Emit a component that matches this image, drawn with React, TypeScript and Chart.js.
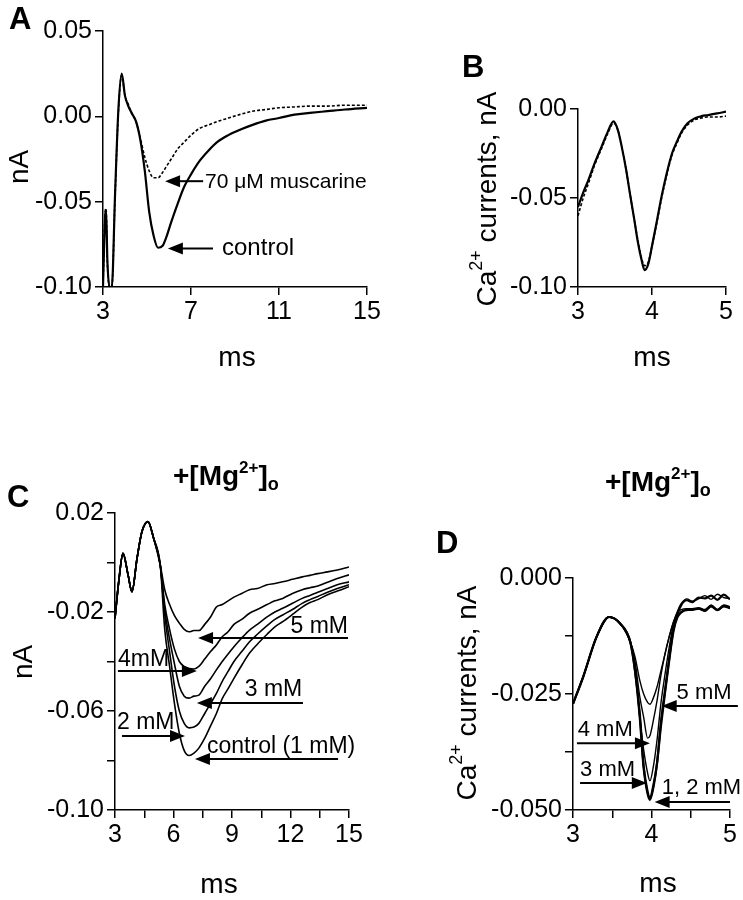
import React, { useEffect, useRef } from "react";
import { Chart, registerables } from "chart.js";

Chart.register(...registerables);

const W = 743;
const H = 900;
const FONT = "'Liberation Sans', Arial, Helvetica, sans-serif";

// ---------------- Panel A ----------------
const aTime = [3.0, 3.05, 3.1, 3.14, 3.2, 3.3, 3.4, 3.55, 3.7, 3.85, 4.0, 4.15, 4.3, 4.5, 4.7, 4.9, 5.1, 5.3, 5.5, 5.7, 5.9, 6.1, 6.4, 6.7, 7.0, 7.4, 7.8, 8.2, 8.7, 9.2, 9.8, 10.4, 11.0, 11.7, 12.4, 13.2, 14.0, 15.0];
const aControl = [-0.1, -0.076, -0.058, -0.055, -0.085, -0.1, -0.1, -0.045, 0.004, 0.025, 0.012, 0.006, 0.002, -0.003, -0.014, -0.032, -0.056, -0.07, -0.077, -0.076, -0.07, -0.062, -0.051, -0.041, -0.034, -0.026, -0.02, -0.015, -0.011, -0.008, -0.005, -0.0025, -0.001, 0.001, 0.002, 0.003, 0.004, 0.005];
const aMuscarine = [-0.1, -0.074, -0.056, -0.054, -0.086, -0.1, -0.1, -0.046, 0.003, 0.024, 0.012, 0.007, 0.002, -0.003, -0.013, -0.024, -0.032, -0.036, -0.036, -0.033, -0.029, -0.025, -0.019, -0.015, -0.011, -0.007, -0.005, -0.003, -0.001, 0.001, 0.003, 0.004, 0.005, 0.0055, 0.006, 0.006, 0.0065, 0.0065];
const aXTicks = [3, 7, 11, 15];
const aXLabels = ["3", "7", "11", "15"];
const aYTicks = [-0.1, -0.05, 0, 0.05];
const aYLabels = ["-0.10", "-0.05", "0.00", "0.05"];

// ---------------- Panel B ----------------
const bTime = [3.0, 3.07, 3.14, 3.22, 3.32, 3.4, 3.48, 3.54, 3.59, 3.65, 3.7, 3.76, 3.81, 3.86, 3.9, 3.95, 4.0, 4.07, 4.13, 4.2, 4.27, 4.34, 4.4, 4.48, 4.58, 4.67, 4.76, 4.88, 5.0];
const bControl = [-0.055, -0.047, -0.04, -0.031, -0.021, -0.013, -0.007, -0.012, -0.021, -0.034, -0.047, -0.062, -0.075, -0.085, -0.0905, -0.087, -0.077, -0.062, -0.049, -0.036, -0.025, -0.018, -0.0127, -0.008, -0.0052, -0.004, -0.0034, -0.0025, -0.0015];
const bMuscarine = [-0.06, -0.05, -0.042, -0.032, -0.022, -0.014, -0.008, -0.012, -0.021, -0.034, -0.047, -0.062, -0.074, -0.084, -0.088, -0.086, -0.077, -0.063, -0.05, -0.037, -0.026, -0.019, -0.0135, -0.009, -0.006, -0.005, -0.0045, -0.0045, -0.004];
const bXTicks = [3, 4, 5];
const bXLabels = ["3", "4", "5"];
const bYTicks = [-0.1, -0.05, 0];
const bYLabels = ["-0.10", "-0.05", "0.00"];

// ---------------- Panel C ----------------
const cTime = [3.0, 3.19, 3.41, 3.67, 3.87, 4.13, 4.38, 4.69, 4.98, 5.32, 5.55, 5.8, 6.05, 6.3, 6.55, 6.8, 7.05, 7.3, 7.6, 7.9, 8.2, 8.5, 8.8, 9.1, 9.5, 9.9, 10.3, 10.8, 11.2, 11.6, 12.1, 12.6, 13.0, 13.4, 13.9, 14.4, 15.0];
const cMg5 = [-0.0226, -0.0078, 0.0037, -0.005, -0.0118, 0.0017, 0.0124, 0.0165, 0.0098, -0.001, -0.011, -0.017, -0.0215, -0.0245, -0.027, -0.028, -0.0275, -0.0275, -0.025, -0.022, -0.018, -0.017, -0.0155, -0.014, -0.0125, -0.011, -0.0105, -0.009, -0.0085, -0.0078, -0.0068, -0.0058, -0.0052, -0.0045, -0.0038, -0.003, -0.0018];
const cMg4 = [-0.0226, -0.0078, 0.0037, -0.005, -0.0118, 0.0017, 0.0124, 0.0165, 0.0098, -0.001, -0.017, -0.027, -0.035, -0.04, -0.042, -0.0428, -0.043, -0.042, -0.039, -0.036, -0.0333, -0.03, -0.028, -0.025, -0.023, -0.0205, -0.019, -0.017, -0.0155, -0.0145, -0.0125, -0.011, -0.0102, -0.0095, -0.008, -0.0065, -0.005];
const cMg3 = [-0.0226, -0.0078, 0.0037, -0.005, -0.0118, 0.0017, 0.0124, 0.0165, 0.0098, -0.001, -0.019, -0.031, -0.041, -0.05, -0.054, -0.0548, -0.054, -0.0536, -0.05, -0.047, -0.0434, -0.04, -0.037, -0.034, -0.0305, -0.0273, -0.025, -0.022, -0.02, -0.0185, -0.0165, -0.0145, -0.0133, -0.012, -0.0105, -0.009, -0.0078];
const cMg2 = [-0.0226, -0.0078, 0.0037, -0.005, -0.0118, 0.0017, 0.0124, 0.0165, 0.0098, -0.001, -0.021, -0.036, -0.05, -0.06, -0.065, -0.0668, -0.0665, -0.065, -0.061, -0.057, -0.0529, -0.048, -0.044, -0.04, -0.036, -0.032, -0.029, -0.0255, -0.023, -0.0212, -0.019, -0.0165, -0.015, -0.0137, -0.012, -0.0105, -0.009];
const cMg1 = [-0.0226, -0.0078, 0.0037, -0.005, -0.0118, 0.0017, 0.0124, 0.0165, 0.0098, -0.001, -0.027, -0.042, -0.057, -0.069, -0.076, -0.078, -0.077, -0.075, -0.071, -0.066, -0.061, -0.055, -0.051, -0.0468, -0.0415, -0.0366, -0.033, -0.029, -0.026, -0.0239, -0.021, -0.018, -0.0162, -0.015, -0.013, -0.0115, -0.0098];
const cXTicks = [3, 4.5, 6, 7.5, 9, 10.5, 12, 13.5, 15];
const cXLabels = ["3", "", "6", "", "9", "", "12", "", "15"];
const cYTicks = [-0.1, -0.08, -0.06, -0.04, -0.02, 0, 0.02];
const cYLabels = ["-0.10", "", "-0.06", "", "-0.02", "", "0.02"];

// ---------------- Panel D ----------------
const dTime = [3.0, 3.13, 3.3, 3.46, 3.6, 3.73, 3.79, 3.85, 3.9, 3.95, 3.98, 4.02, 4.07, 4.12, 4.17, 4.22, 4.28, 4.33, 4.38, 4.45, 4.52, 4.6, 4.68, 4.76, 4.84, 4.92, 5.0];
const dMg5 = [-0.0271, -0.0213, -0.0127, -0.0084, -0.0098, -0.0138, -0.017, -0.022, -0.025, -0.0268, -0.0272, -0.026, -0.0235, -0.02, -0.0165, -0.013, -0.0095, -0.0072, -0.0055, -0.0045, -0.005, -0.0045, -0.0038, -0.0046, -0.0035, -0.0042, -0.0044];
const dMg4 = [-0.0271, -0.0213, -0.0127, -0.0084, -0.0098, -0.0138, -0.018, -0.0255, -0.03, -0.0345, -0.034, -0.031, -0.0265, -0.021, -0.0165, -0.013, -0.0095, -0.0075, -0.0068, -0.0066, -0.0066, -0.0064, -0.0068, -0.0058, -0.0068, -0.0058, -0.0062];
const dMg3 = [-0.0271, -0.0213, -0.0127, -0.0084, -0.0098, -0.0138, -0.019, -0.03, -0.037, -0.042, -0.0437, -0.041, -0.035, -0.027, -0.021, -0.0155, -0.01, -0.0082, -0.0072, -0.007, -0.0068, -0.0067, -0.0072, -0.0062, -0.007, -0.0062, -0.0066];
const dMg2 = [-0.0271, -0.0213, -0.0127, -0.0084, -0.0098, -0.0138, -0.02, -0.029, -0.0405, -0.046, -0.0475, -0.045, -0.04, -0.031, -0.0245, -0.018, -0.011, -0.0078, -0.0058, -0.0048, -0.0052, -0.0042, -0.0044, -0.0038, -0.0047, -0.0036, -0.0046];
const dMg1 = [-0.0271, -0.0213, -0.0127, -0.0084, -0.0098, -0.0138, -0.02, -0.03, -0.041, -0.0465, -0.0478, -0.0455, -0.04, -0.032, -0.025, -0.0185, -0.0115, -0.0085, -0.0074, -0.0068, -0.0069, -0.0066, -0.007, -0.006, -0.0069, -0.006, -0.0064];
const dXTicks = [3, 3.5, 4, 4.5, 5];
const dXLabels = ["3", "", "4", "", "5"];
const dYTicks = [-0.05, -0.0375, -0.025, -0.0125, 0];
const dYLabels = ["-0.050", "", "-0.025", "", "0.000"];

type Ann = { text: string; tx: number; ty: number; align: "left" | "right"; tail: number; tip: number; ay: number; size: number };
type Txt = { parts: { t: string; size: number; dy: number }[]; x: number; y: number; bold?: boolean; rotate?: boolean; center?: boolean };

type PanelCfg = {
  area: { left: number; right: number; top: number; bottom: number };
  xRange: [number, number];
  yRange: [number, number];
  xTicks: number[];
  xLabels: string[];
  yTicks: number[];
  yLabels: string[];
  series: { time: number[]; values: number[]; width: number; dash?: number[] }[];
  anns: Ann[];
  texts: Txt[];
};

const caTitle = [
  { t: "Ca", size: 28, dy: 0 },
  { t: "2+", size: 18, dy: -11 },
  { t: " currents, nA", size: 28, dy: 0 },
];
const mgTitle = [
  { t: "+[Mg", size: 28, dy: 0 },
  { t: "2+", size: 17, dy: -12 },
  { t: "]", size: 28, dy: 0 },
  { t: "o", size: 18, dy: 5 },
];

const panels: PanelCfg[] = [
  {
    area: { left: 103, right: 367, top: 31, bottom: 287 },
    xRange: [3, 15],
    yRange: [-0.1, 0.05],
    xTicks: aXTicks, xLabels: aXLabels, yTicks: aYTicks, yLabels: aYLabels,
    series: [
      { time: aTime, values: aMuscarine, width: 1.6, dash: [3, 2] },
      { time: aTime, values: aControl, width: 2.2 },
    ],
    anns: [
      { text: "70 \u03BCM muscarine", tx: 7.64, ty: -0.0387, align: "left", tail: 7.55, tip: 5.82, ay: -0.038, size: 21 },
      { text: "control", tx: 8.41, ty: -0.0774, align: "left", tail: 8.0, tip: 5.95, ay: -0.0774, size: 24 },
    ],
    texts: [
      { parts: [{ t: "A", size: 31, dy: 0 }], x: 9, y: 29, bold: true },
      { parts: [{ t: "nA", size: 28, dy: 0 }], x: 20, y: 167, rotate: true, center: true },
      { parts: [{ t: "ms", size: 28, dy: 0 }], x: 237, y: 358, center: true },
    ],
  },
  {
    area: { left: 578, right: 726, top: 109, bottom: 287 },
    xRange: [3, 5],
    yRange: [-0.1, 0],
    xTicks: bXTicks, xLabels: bXLabels, yTicks: bYTicks, yLabels: bYLabels,
    series: [
      { time: bTime, values: bMuscarine, width: 1.6, dash: [3, 2] },
      { time: bTime, values: bControl, width: 2.2 },
    ],
    anns: [],
    texts: [
      { parts: [{ t: "B", size: 31, dy: 0 }], x: 462, y: 77, bold: true },
      { parts: caTitle, x: 488, y: 199, rotate: true, center: true },
      { parts: [{ t: "ms", size: 28, dy: 0 }], x: 652, y: 358, center: true },
    ],
  },
  {
    area: { left: 115, right: 349, top: 513, bottom: 810 },
    xRange: [3, 15],
    yRange: [-0.1, 0.02],
    xTicks: cXTicks, xLabels: cXLabels, yTicks: cYTicks, yLabels: cYLabels,
    series: [
      { time: cTime, values: cMg5, width: 1.6 },
      { time: cTime, values: cMg4, width: 1.6 },
      { time: cTime, values: cMg3, width: 1.6 },
      { time: cTime, values: cMg2, width: 1.6 },
      { time: cTime, values: cMg1, width: 1.6 },
    ],
    anns: [
      { text: "5 mM", tx: 14.95, ty: -0.0261, align: "right", tail: 14.95, tip: 7.26, ay: -0.0305, size: 23 },
      { text: "4mM", tx: 3.15, ty: -0.0394, align: "left", tail: 3.15, tip: 7.2, ay: -0.0438, size: 23 },
      { text: "3 mM", tx: 12.6, ty: -0.0515, align: "right", tail: 12.64, tip: 7.2, ay: -0.0568, size: 23 },
      { text: "2 mM", tx: 3.1, ty: -0.0648, align: "left", tail: 3.36, tip: 6.59, ay: -0.0701, size: 23 },
      { text: "control (1 mM)", tx: 7.72, ty: -0.0745, align: "left", tail: 14.44, tip: 7.1, ay: -0.0794, size: 23 },
    ],
    texts: [
      { parts: [{ t: "C", size: 31, dy: 0 }], x: 7, y: 507, bold: true },
      { parts: mgTitle, x: 173, y: 485, bold: true },
      { parts: [{ t: "nA", size: 28, dy: 0 }], x: 24, y: 662, rotate: true, center: true },
      { parts: [{ t: "ms", size: 28, dy: 0 }], x: 219, y: 885, center: true },
    ],
  },
  {
    area: { left: 573, right: 730, top: 578, bottom: 810 },
    xRange: [3, 5],
    yRange: [-0.05, 0],
    xTicks: dXTicks, xLabels: dXLabels, yTicks: dYTicks, yLabels: dYLabels,
    series: [
      { time: dTime, values: dMg5, width: 1.4 },
      { time: dTime, values: dMg4, width: 1.4 },
      { time: dTime, values: dMg3, width: 1.4 },
      { time: dTime, values: dMg2, width: 2.2 },
      { time: dTime, values: dMg1, width: 2.2 },
    ],
    anns: [
      { text: "5 mM", tx: 4.32, ty: -0.0248, align: "left", tail: 5.1, tip: 4.13, ay: -0.0276, size: 22 },
      { text: "4 mM", tx: 3.06, ty: -0.0328, align: "left", tail: 3.05, tip: 3.98, ay: -0.0356, size: 22 },
      { text: "3 mM", tx: 3.09, ty: -0.0414, align: "left", tail: 3.09, tip: 3.94, ay: -0.0442, size: 22 },
      { text: "1, 2 mM", tx: 4.13, ty: -0.0453, align: "left", tail: 5.0, tip: 4.04, ay: -0.0483, size: 22 },
    ],
    texts: [
      { parts: [{ t: "D", size: 31, dy: 0 }], x: 436, y: 553, bold: true },
      { parts: mgTitle, x: 605, y: 491, bold: true },
      { parts: caTitle, x: 468, y: 693, rotate: true, center: true },
      { parts: [{ t: "ms", size: 28, dy: 0 }], x: 658, y: 884, center: true },
    ],
  },
];

const Y_AXIS_W = 90;
const X_AXIS_H = 40;

function drawText(ctx: CanvasRenderingContext2D, tx: Txt) {
  ctx.save();
  const weight = tx.bold ? "bold " : "";
  let total = 0;
  for (const p of tx.parts) {
    ctx.font = `${weight}${p.size}px ${FONT}`;
    total += ctx.measureText(p.t).width;
  }
  ctx.translate(tx.x, tx.y);
  if (tx.rotate) ctx.rotate(-Math.PI / 2);
  ctx.fillStyle = "#000";
  ctx.textBaseline = tx.center ? "middle" : "alphabetic";
  ctx.textAlign = "left";
  let x = tx.center ? -total / 2 : 0;
  for (const p of tx.parts) {
    ctx.font = `${weight}${p.size}px ${FONT}`;
    ctx.fillText(p.t, x, p.dy);
    x += ctx.measureText(p.t).width;
  }
  ctx.restore();
}

function drawArrow(ctx: CanvasRenderingContext2D, x1: number, y: number, x2: number) {
  const dir = Math.sign(x2 - x1);
  const L = 15;
  const hw = 6;
  ctx.beginPath();
  ctx.moveTo(x1, y);
  ctx.lineTo(x2 - dir * L * 0.7, y);
  ctx.lineWidth = 2;
  ctx.strokeStyle = "#000";
  ctx.stroke();
  ctx.beginPath();
  ctx.moveTo(x2, y);
  ctx.lineTo(x2 - dir * L, y - hw);
  ctx.lineTo(x2 - dir * L, y + hw);
  ctx.closePath();
  ctx.fillStyle = "#000";
  ctx.fill();
}

function axis(ticks: number[], labels: string[], min: number, max: number, isX: boolean) {
  return {
    type: "linear" as const,
    min,
    max,
    afterBuildTicks: (s: any) => {
      s.ticks = ticks.map((v) => ({ value: v }));
    },
    afterFit: (s: any) => {
      if (isX) s.height = X_AXIS_H;
      else s.width = Y_AXIS_W;
    },
    ticks: {
      autoSkip: false,
      maxRotation: 0,
      minRotation: 0,
      color: "#000",
      padding: isX ? 2 : 3,
      font: { family: FONT, size: 25 },
      callback: (_v: any, i: number) => labels[i],
    },
    grid: { drawOnChartArea: false, drawTicks: true, tickLength: 8, color: "#000", lineWidth: 1.5 },
    border: { display: true, color: "#000", width: 1.5 },
  };
}

function buildConfig(p: PanelCfg): any {
  return {
    type: "line",
    data: {
      datasets: p.series.map((s) => ({
        data: s.time.map((t, i) => ({ x: t, y: s.values[i] })),
        borderColor: "#000",
        borderWidth: s.width,
        borderDash: s.dash || [],
        pointRadius: 0,
        fill: false,
        cubicInterpolationMode: "monotone",
      })),
    },
    options: {
      responsive: false,
      maintainAspectRatio: false,
      devicePixelRatio: 1,
      animation: false,
      events: [],
      layout: {
        padding: {
          left: p.area.left - Y_AXIS_W,
          right: W - p.area.right,
          top: p.area.top,
          bottom: H - p.area.bottom - X_AXIS_H,
        },
      },
      plugins: { legend: { display: false }, tooltip: { enabled: false }, title: { display: false } },
      scales: {
        x: axis(p.xTicks, p.xLabels, p.xRange[0], p.xRange[1], true),
        y: axis(p.yTicks, p.yLabels, p.yRange[0], p.yRange[1], false),
      },
    },
    plugins: [
      {
        id: "deco",
        afterDraw: (chart: any) => {
          const ctx = chart.ctx as CanvasRenderingContext2D;
          const xs = chart.scales.x;
          const ys = chart.scales.y;
          for (const a of p.anns) {
            const ay = ys.getPixelForValue(a.ay);
            drawArrow(ctx, xs.getPixelForValue(a.tail), ay, xs.getPixelForValue(a.tip));
            ctx.save();
            ctx.font = `${a.size}px ${FONT}`;
            ctx.fillStyle = "#000";
            ctx.textAlign = a.align;
            ctx.textBaseline = "middle";
            ctx.fillText(a.text, xs.getPixelForValue(a.tx), ys.getPixelForValue(a.ty));
            ctx.restore();
          }
          for (const t of p.texts) drawText(ctx, t);
        },
      },
    ],
  };
}

function Panel({ cfg }: { cfg: PanelCfg }) {
  const ref = useRef<HTMLCanvasElement | null>(null);
  useEffect(() => {
    if (!ref.current) return;
    const chart = new Chart(ref.current, buildConfig(cfg));
    return () => chart.destroy();
  }, [cfg]);
  return (
    <canvas
      ref={ref}
      width={W}
      height={H}
      style={{ position: "absolute", left: 0, top: 0, width: W, height: H }}
    />
  );
}

export default function App() {
  return (
    <div style={{ position: "absolute", left: 0, top: 0, width: W, height: H, background: "#fff", overflow: "hidden" }}>
      {panels.map((p, i) => (
        <Panel key={i} cfg={p} />
      ))}
    </div>
  );
}
